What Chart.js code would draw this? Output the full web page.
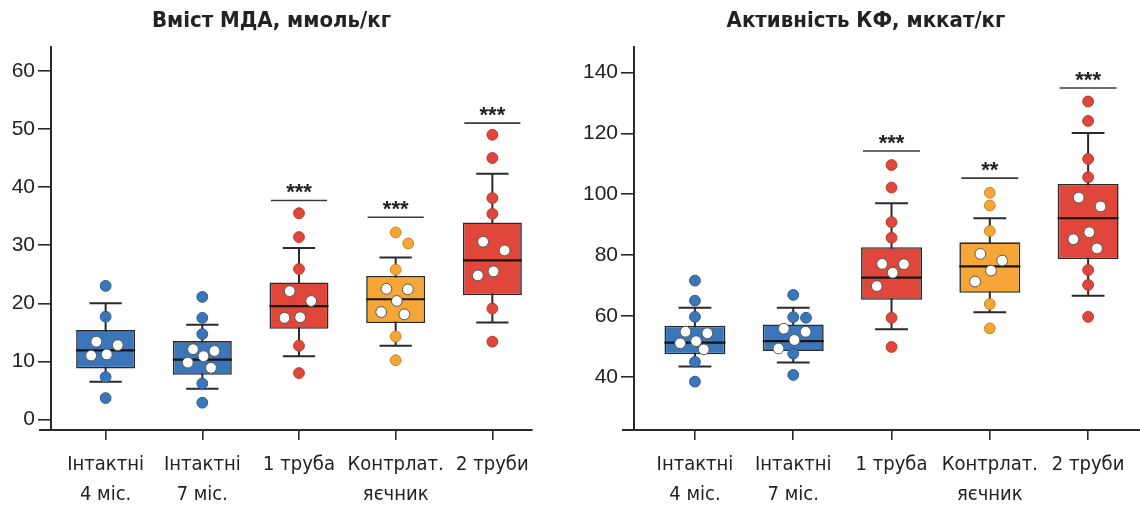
<!DOCTYPE html>
<html>
<head>
<meta charset="utf-8">
<script src="https://cdn.jsdelivr.net/npm/chart.js@4.4.1/dist/chart.umd.min.js"></script>
<style>
  body { margin: 0; background: #fff; width: 1140px; height: 508px; overflow: hidden; position: relative; }
  .panel { position: absolute; top: 0; height: 508px; }
</style>
</head>
<body>
<div class="panel" style="left:0;width:570px"><canvas id="mda" width="570" height="508"></canvas></div>
<div class="panel" style="left:570px;width:590px"><canvas id="kf" width="590" height="508"></canvas></div>
<script>
const groups = [['Інтактні', '4 міс.'], ['Інтактні', '7 міс.'], '1 труба', ['Контрлат.', 'яєчник'], '2 труби'];
const groupColors = ['#3b76bb', '#3b76bb', '#e0473a', '#f6a637', '#e0473a'];
const groupEdges = ['#2c5b94', '#2c5b94', '#b7352a', '#c98220', '#b7352a'];

// Вміст МДА, ммоль/кг
const mdaLow = [6.5, 5.3, 10.9, 12.7, 16.7];
const mdaQ1 = [8.8, 7.7, 15.6, 16.6, 21.4];
const mdaMedian = [11.9, 10.3, 19.5, 20.7, 27.4];
const mdaQ3 = [15.4, 13.5, 23.6, 24.7, 33.9];
const mdaHigh = [20.0, 16.3, 29.5, 27.9, 42.3];
const mdaPoints = [
  [23.0, 17.7, 13.4, 12.8, 11.2, 11.0, 7.3, 3.7],
  [21.1, 17.5, 14.7, 12.1, 11.8, 10.9, 9.8, 8.9, 6.2, 2.9],
  [35.5, 31.4, 25.9, 22.1, 20.4, 17.6, 17.5, 12.7, 8.0],
  [32.2, 30.3, 25.8, 22.5, 22.4, 20.4, 18.5, 18.1, 14.3, 10.2],
  [49.0, 45.0, 38.1, 35.4, 30.6, 29.1, 25.5, 24.8, 19.1, 13.4]
];
const mdaStars = ['', '', '***', '***', '***'];
const mdaStarLevel = [null, null, 37.7, 34.8, 51.0];

// Активність КФ, мккат/кг
const kfLow = [43.4, 44.7, 55.6, 61.2, 66.6];
const kfQ1 = [47.4, 48.5, 65.3, 67.6, 78.7];
const kfMedian = [51.2, 51.7, 72.6, 76.3, 92.1];
const kfQ3 = [56.8, 57.2, 82.6, 84.2, 103.4];
const kfHigh = [62.7, 62.7, 97.0, 92.1, 120.1];
const kfPoints = [
  [71.6, 65.0, 59.7, 54.8, 54.3, 51.7, 51.0, 49.0, 44.9, 38.4],
  [66.9, 59.6, 59.4, 55.8, 54.8, 52.1, 49.3, 47.6, 40.6],
  [109.6, 102.2, 90.8, 85.7, 77.1, 77.0, 74.2, 69.8, 59.4, 49.8],
  [100.5, 96.3, 87.9, 80.4, 78.2, 74.9, 71.3, 63.9, 55.9],
  [130.5, 124.1, 111.6, 105.6, 98.9, 96.0, 87.5, 85.2, 82.2, 75.1, 70.2, 59.7]
];
const kfStars = ['', '', '***', '**', '***'];
const kfStarLevel = [null, null, 114.2, 105.3, 134.9];

const narrow = "'DejaVu Sans Condensed', 'Liberation Sans', sans-serif";
const ink = '#2a2a2a';

// spread the points that sit inside the box, keep the others on the whisker
const spread = [-0.32, 0.42, 0.04, -0.5, 0.3, -0.14, 0.55, -0.4];
function buildPoints(points, q1, q3, range) {
  const out = [];
  points.forEach((vals, i) => {
    let k = 0, prev = null;
    vals.forEach(v => {
      const inside = v >= q1[i] && v <= q3[i];
      let dx = 0;
      if (inside) {
        dx = spread[k % spread.length] * 0.3;
        k++;
      } else {
        if (prev !== null && Math.abs(prev - v) < range * 0.03) dx = 0.13;
        prev = v;
      }
      out.push({ x: i + dx, y: v, inside: inside, g: i });
    });
  });
  return out;
}

const boxParts = {
  id: 'boxParts',
  beforeDatasetsDraw(chart, args, o) {
    const { x, y } = chart.scales;
    const ctx = chart.ctx;
    const half = (x.getPixelForValue(1) - x.getPixelForValue(0)) * 0.167;
    ctx.save();
    ctx.strokeStyle = ink;
    ctx.lineWidth = 2;
    o.low.forEach((lo, i) => {
      const cx = x.getPixelForValue(i);
      const yl = y.getPixelForValue(lo);
      const yh = y.getPixelForValue(o.high[i]);
      ctx.beginPath();
      ctx.moveTo(cx, yl); ctx.lineTo(cx, yh);
      ctx.moveTo(cx - half, yl); ctx.lineTo(cx + half, yl);
      ctx.moveTo(cx - half, yh); ctx.lineTo(cx + half, yh);
      ctx.stroke();
    });
    ctx.restore();
  },
  afterDatasetDraw(chart, args, o) {
    if (args.index !== 0) return;
    const y = chart.scales.y;
    const ctx = chart.ctx;
    ctx.save();
    ctx.strokeStyle = '#151515';
    ctx.lineWidth = 2.2;
    args.meta.data.forEach((bar, i) => {
      const yy = y.getPixelForValue(o.median[i]);
      ctx.beginPath();
      ctx.moveTo(bar.x - bar.width / 2, yy);
      ctx.lineTo(bar.x + bar.width / 2, yy);
      ctx.stroke();
    });
    ctx.restore();
  },
  afterDatasetsDraw(chart, args, o) {
    const { x, y } = chart.scales;
    const ctx = chart.ctx;
    const half = (x.getPixelForValue(1) - x.getPixelForValue(0)) * 0.29;
    ctx.save();
    o.stars.forEach((s, i) => {
      if (!s) return;
      const cx = x.getPixelForValue(i);
      const yy = y.getPixelForValue(o.level[i]);
      ctx.strokeStyle = '#3a3a3a';
      ctx.lineWidth = 1.6;
      ctx.beginPath();
      ctx.moveTo(cx - half, yy); ctx.lineTo(cx + half, yy);
      ctx.stroke();
      ctx.fillStyle = '#222';
      ctx.font = "bold 22px 'Liberation Sans', sans-serif";
      ctx.textAlign = 'center';
      ctx.textBaseline = 'alphabetic';
      ctx.fillText(s, cx, yy - 1);
    });
    // x axis line runs a little past the y axis on the left
    const a = chart.chartArea;
    const by = x._borderValue !== undefined ? x._borderValue : a.bottom;
    ctx.strokeStyle = ink;
    ctx.lineWidth = 2;
    ctx.beginPath();
    ctx.moveTo(a.left - 12, by);
    ctx.lineTo(a.left + 1, by);
    ctx.stroke();
    ctx.restore();
  }
};

function makeChart(id, cfg) {
  const pts = buildPoints(cfg.points, cfg.q1, cfg.q3, cfg.yMax - cfg.yMin);
  return new Chart(document.getElementById(id), {
    type: 'bar',
    data: {
      datasets: [{
        type: 'bar',
        data: cfg.q1.map((v, i) => ({ x: i, y: [v, cfg.q3[i]] })),
        backgroundColor: groupColors,
        borderColor: ink,
        borderWidth: 1.6,
        borderSkipped: false,
        categoryPercentage: 1,
        barPercentage: cfg.boxWidth,
        order: 2
      }, {
        type: 'scatter',
        data: pts,
        pointRadius: 5.4,
        borderWidth: 1,
        backgroundColor: pts.map(p => p.inside ? '#ffffff' : groupColors[p.g]),
        borderColor: pts.map(p => p.inside ? '#555555' : groupEdges[p.g]),
        order: 1
      }]
    },
    options: {
      responsive: false,
      animation: false,
      layout: { padding: cfg.padding },
      plugins: {
        legend: { display: false },
        tooltip: { enabled: false },
        title: {
          display: true,
          text: cfg.title,
          color: '#222',
          font: { family: narrow, size: 22, weight: 'bold', lineHeight: 1.2 },
          padding: { top: 8, bottom: 12.6 }
        },
        boxParts: {
          low: cfg.low, high: cfg.high, median: cfg.median,
          stars: cfg.stars, level: cfg.level
        }
      },
      scales: {
        x: {
          type: 'linear',
          offset: false,
          min: cfg.xMin,
          max: cfg.xMax,
          afterFit: s => { s.height = 78; },
          border: { display: true, color: ink, width: 2 },
          grid: { offset: false, drawOnChartArea: false, drawTicks: true, tickLength: 10, color: ink, lineWidth: 1.6 },
          ticks: {
            stepSize: 1,
            includeBounds: false,
            autoSkip: false,
            maxRotation: 0,
            padding: 10,
            color: '#222',
            font: { family: narrow, size: 20, lineHeight: 1.5 },
            callback: v => Number.isInteger(v) ? groups[v] : ''
          }
        },
        y: {
          min: cfg.yMin,
          max: cfg.yMax,
          afterFit: s => { s.width = cfg.axisWidth; },
          border: { display: true, color: ink, width: 2 },
          grid: { drawOnChartArea: false, drawTicks: true, tickLength: 13, color: ink, lineWidth: 1.6 },
          ticks: {
            stepSize: cfg.step,
            includeBounds: false,
            padding: 3,
            color: '#222',
            font: { family: "'Liberation Sans', sans-serif", size: 21 }
          }
        }
      }
    },
    plugins: [boxParts]
  });
}

makeChart('mda', {
  title: 'Вміст МДА, ммоль/кг',
  low: mdaLow, q1: mdaQ1, median: mdaMedian, q3: mdaQ3, high: mdaHigh,
  points: mdaPoints, stars: mdaStars, level: mdaStarLevel,
  yMin: -1.8, yMax: 64.1, step: 10,
  xMin: -0.565, xMax: 4.41,
  boxWidth: 0.61,
  axisWidth: 40,
  padding: { left: 11, right: 38, top: 0, bottom: 0 }
});

makeChart('kf', {
  title: 'Активність КФ, мккат/кг',
  low: kfLow, q1: kfQ1, median: kfMedian, q3: kfQ3, high: kfHigh,
  points: kfPoints, stars: kfStars, level: kfStarLevel,
  yMin: 22.5, yMax: 148.4, step: 20,
  xMin: -0.62, xMax: 4.65,
  boxWidth: 0.62,
  axisWidth: 54,
  padding: { left: 10, right: 8, top: 0, bottom: 0 }
});
</script>
</body>
</html>
